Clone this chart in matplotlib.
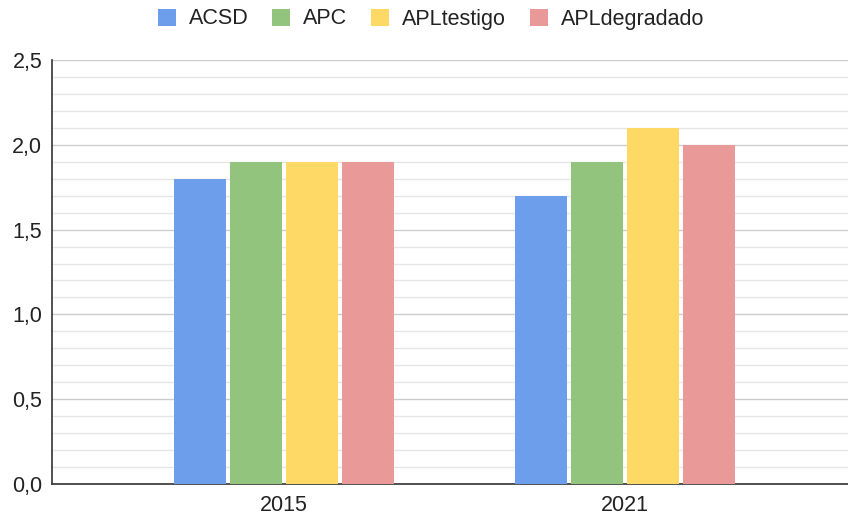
import numpy as np
import matplotlib.pyplot as plt
from matplotlib.ticker import MultipleLocator, FuncFormatter
from matplotlib.patches import Patch

years = ["2015", "2021"]
series = ["ACSD", "APC", "APLtestigo", "APLdegradado"]
acsd = [1.8, 1.7]
apc = [1.9, 1.9]
apl_testigo = [1.9, 2.1]
apl_degradado = [1.9, 2.0]
colors = ["#6d9eeb", "#93c47d", "#ffd966", "#ea9999"]

plt.rcParams['font.family'] = ['Liberation Sans', 'DejaVu Sans']
fsize = 15.5

fig = plt.figure(figsize=(8.48, 5.15), dpi=100)
ax = fig.add_axes([52 / 848, 1 - 484 / 515, 805 / 848, 424 / 515])

x = np.arange(len(years))
step = 0.164
width = 0.1525
for i, (vals, c) in enumerate(zip([acsd, apc, apl_testigo, apl_degradado], colors)):
    ax.bar(x + (i - 1.5) * step, vals, width, color=c, zorder=3)

ax.set_xlim(-0.68, 1.68)
ax.set_ylim(0, 2.5)
ax.set_xticks(x)
ax.set_xticklabels(years)
ax.yaxis.set_major_locator(MultipleLocator(0.5))
ax.yaxis.set_minor_locator(MultipleLocator(0.1))
ax.yaxis.set_major_formatter(FuncFormatter(lambda v, p: f"{v:.1f}".replace(".", ",")))
ax.grid(axis='y', which='major', color='#cccccc', linewidth=1, zorder=0)
ax.grid(axis='y', which='minor', color='#e6e6e6', linewidth=1, zorder=0)
ax.tick_params(axis='both', which='both', length=0, labelsize=fsize, colors='#222222')
ax.tick_params(axis='y', pad=7)
ax.tick_params(axis='x', pad=8)

for s in ['top', 'right']:
    ax.spines[s].set_visible(False)
ax.spines['left'].set_color('#333333')
ax.spines['bottom'].set_color('#333333')
ax.spines['left'].set_linewidth(1.2)
ax.spines['bottom'].set_linewidth(1.2)

handles = [Patch(facecolor=c, label=s) for s, c in zip(series, colors)]
fig.legend(handles=handles, loc='center', bbox_to_anchor=(431 / 848, 1 - 19 / 515),
           ncol=4, frameon=False, fontsize=fsize, handlelength=0.84, handleheight=0.84,
           handletextpad=0.6, columnspacing=1.1, labelcolor='#222222')

fig.savefig("out.png", dpi=100)
